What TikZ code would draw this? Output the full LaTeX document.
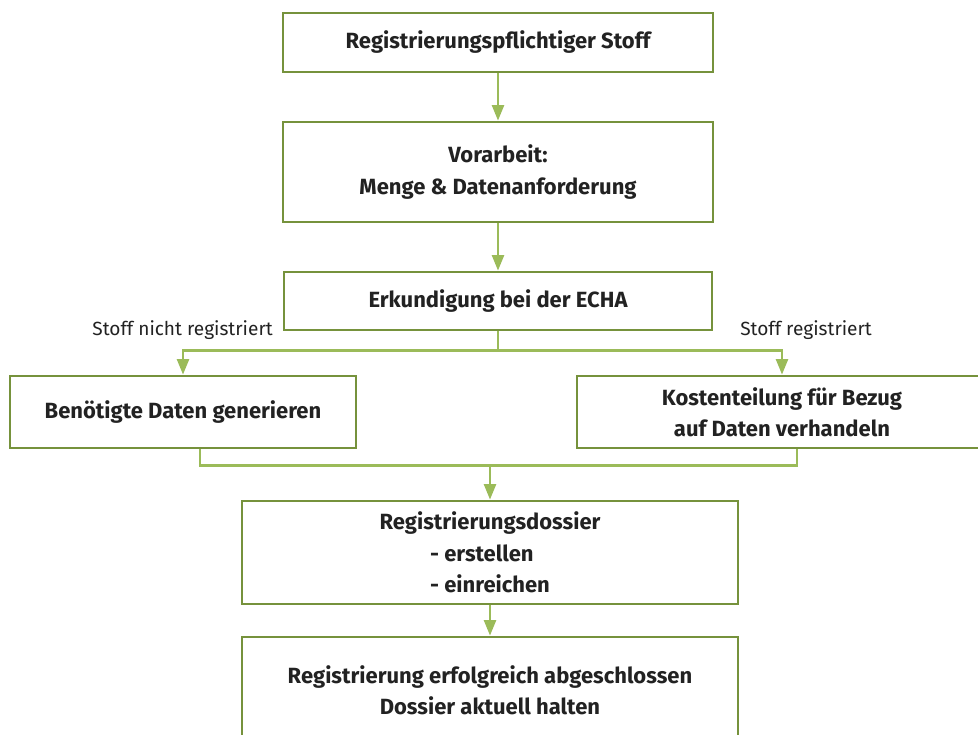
\documentclass[tikz,border=0pt]{standalone}
\usepackage{fontspec}
\setmainfont{Fira Sans}
\usetikzlibrary{arrows.meta,calc}
\definecolor{rahmen}{RGB}{118,146,60}
\definecolor{linie}{RGB}{155,187,89}
\definecolor{schrift}{RGB}{34,34,34}
\tikzset{
    kasten/.style={draw=rahmen, line width=2.2pt, rectangle, fill=white, align=center, text=schrift, font=\bfseries\fontsize{16.5}{23.5}\selectfont},
    linie/.style={draw=linie, line width=1.6pt},
    pfeil/.style={linie, -{Triangle[width=9pt,length=11.5pt]}},
    hinweis/.style={text=schrift, font=\fontsize{14.3}{16}\selectfont, inner sep=0pt}
}
\begin{document}
\begin{tikzpicture}[node distance=3cm, auto]
    \useasboundingbox (0,0) rectangle (733.5pt,-551.25pt);
    \node[kasten, minimum width=322.5pt, minimum height=44.25pt] (stoff) at (373.5pt,-31.875pt) {Registrierungspflichtiger Stoff};
    \node[kasten, below of=stoff, node distance=97.125pt, minimum width=322.5pt, minimum height=75pt] (vorarbeit) {Vorarbeit:\\ Menge \& Datenanforderung};
    \node[kasten, below of=vorarbeit, node distance=96.75pt, minimum width=321pt, minimum height=43.5pt] (echa) {Erkundigung bei der ECHA};
    \node[kasten, below of=echa, node distance=83.25pt, xshift=-236.25pt, minimum width=259.5pt, minimum height=54pt] (generieren) {Benötigte Daten generieren};
    \node[kasten, below of=echa, node distance=83.25pt, xshift=213pt, minimum width=307.5pt, minimum height=54pt] (kosten) {Kostenteilung für Bezug\\ auf Daten verhandeln};
    \node[kasten, below of=echa, node distance=188.625pt, xshift=-6pt, minimum width=372pt, minimum height=77.25pt] (dossier) {Registrierungsdossier\\ \rlap{- erstellen}\phantom{- einreichen}\\ - einreichen};
    \node[kasten, below of=dossier, node distance=103.125pt, minimum width=372pt, minimum height=79.5pt] (fertig) {Registrierung erfolgreich abgeschlossen\\ Dossier aktuell halten};

    \coordinate (split) at ($(echa.south)+(0,-14.25pt)$);
    \coordinate (merge) at ($(dossier.north)+(0,25.5pt)$);

    \draw[pfeil] (stoff) -- (vorarbeit);
    \draw[pfeil] (vorarbeit) -- (echa);
    \draw[linie] (echa) -- (split);
    \draw[pfeil] (split) -| (generieren.north);
    \draw[pfeil] (split) -| (kosten.north);
    \draw[linie] ([xshift=12.75pt]generieren.south) |- (merge) -| ([xshift=11.25pt]kosten.south);
    \draw[pfeil] (merge) -- (dossier);
    \draw[pfeil] (dossier) -- (fertig);

    \node[hinweis, anchor=east] (nichtreg) at ($(generieren.north)+(67.5pt,33pt)$) {Stoff nicht registriert};
    \node[hinweis, anchor=west] (reg) at ($(kosten.north)+(-31.5pt,33pt)$) {Stoff registriert};
\end{tikzpicture}
\end{document}
